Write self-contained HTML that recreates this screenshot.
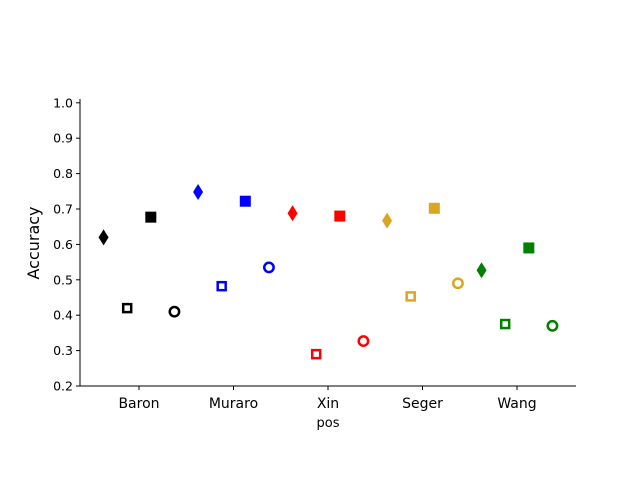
<!DOCTYPE html>
<html><head><meta charset="utf-8"><style>
html,body{margin:0;padding:0;background:#fff;}
svg{display:block;font-family:"DejaVu Sans","Liberation Sans",sans-serif;}
</style></head><body>
<svg id="chart" width="640" height="480" viewBox="0 0 640 480">
<g id="axes"></g>
<g id="marks"></g>
</svg>
<script>
const categories = ["Baron","Muraro","Xin","Seger","Wang"];
const colors = ["black","blue","red","goldenrod","green"];
const diamondVals = [0.62,0.748,0.688,0.667,0.527];
const openSquareVals = [0.42,0.482,0.29,0.453,0.375];
const filledSquareVals = [0.677,0.722,0.68,0.702,0.59];
const openCircleVals = [0.41,0.535,0.327,0.49,0.37];
const yTicks = [0.2,0.3,0.4,0.5,0.6,0.7,0.8,0.9,1.0];

const NS="http://www.w3.org/2000/svg";
const L=80,R=576,B=386;
function xs(i){return 139+i*94.5;}
function ys(v){return 386-(v-0.2)*354;}
function mk(tag,attrs,parent){const e=document.createElementNS(NS,tag);for(const k in attrs)e.setAttribute(k,attrs[k]);parent.appendChild(e);return e;}
const ax=document.getElementById('axes'), mg=document.getElementById('marks');
let e=mk('line',{x1:L,y1:99,x2:L,y2:B,stroke:'#000','stroke-width':1},ax);


e=mk('line',{x1:L,y1:B,x2:R,y2:B,stroke:'#000','stroke-width':1},ax);


yTicks.forEach(t=>{const y=ys(t);
 mk('line',{x1:L-4,y1:y,x2:L,y2:y,stroke:'#000'},ax);
 const tx=mk('text',{x:L-7,y:y+4.5,'text-anchor':'end','font-size':12.5},ax);tx.textContent=t.toFixed(1);
 
 
});
categories.forEach((c,i)=>{const x=xs(i);
 mk('line',{x1:x,y1:B,x2:x,y2:B+4,stroke:'#000'},ax);
 const tx=mk('text',{x:x,y:B+22,'text-anchor':'middle','font-size':14},ax);tx.textContent=c;
 
 
});
let t=mk('text',{x:328,y:427,'text-anchor':'middle','font-size':13},ax);t.textContent='pos';


t=mk('text',{x:0,y:0,'text-anchor':'middle','font-size':16,transform:'translate(39,243) rotate(-90)'},ax);t.textContent='Accuracy';


const off=94.5*0.25;
categories.forEach((c,i)=>{const col=colors[i];
 let x=xs(i)-1.5*off,y=ys(diamondVals[i]);
 let m=mk('path',{d:`M${x} ${y-8}L${x+5} ${y}L${x} ${y+8}L${x-5} ${y}Z`,fill:col},mg);
 
 
 x=xs(i)-0.5*off;y=ys(openSquareVals[i]);
 m=mk('rect',{x:x-4,y:y-4,width:8,height:8,fill:'none',stroke:col,'stroke-width':2.5},mg);
 
 
 x=xs(i)+0.5*off;y=ys(filledSquareVals[i]);
 m=mk('rect',{x:x-5.5,y:y-5.5,width:11,height:11,fill:col},mg);
 
 
 x=xs(i)+1.5*off;y=ys(openCircleVals[i]);
 m=mk('circle',{cx:x,cy:y,r:4.7,fill:'none',stroke:col,'stroke-width':2.5},mg);
 
 
});
</script>
</body></html>
